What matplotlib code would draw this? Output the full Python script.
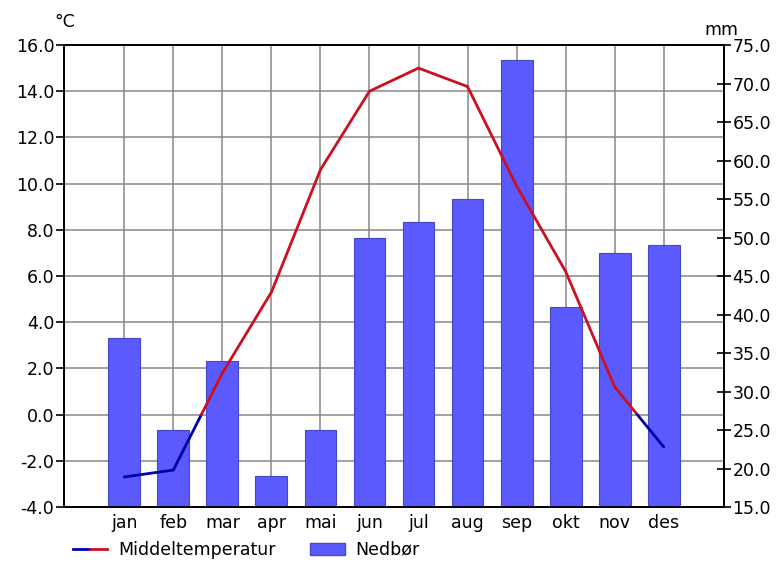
import matplotlib.pyplot as plt
from matplotlib.lines import Line2D
from matplotlib.patches import Patch
from matplotlib.legend_handler import HandlerTuple
from matplotlib.ticker import FormatStrFormatter

# Data
maaneder = ['jan', 'feb', 'mar', 'apr', 'mai', 'jun', 'jul', 'aug', 'sep', 'okt', 'nov', 'des']
temperatur = [-2.7, -2.4, 1.8, 5.3, 10.6, 14.0, 15.0, 14.2, 9.9, 6.2, 1.2, -1.4]  # °C
nedbor = [37, 25, 34, 19, 25, 50, 52, 55, 73, 41, 48, 49]  # mm

rod = '#cc1020'
bla = '#0000aa'
stolpe = '#5a5aff'
fs = 12.5

fig = plt.figure(figsize=(7.77, 5.62), dpi=100)
ax = fig.add_axes([64/777, 1-507/562, 660/777, 462/562])
ax2 = ax.twinx()

x = list(range(len(maaneder)))

# Temperaturakse (venstre) med rutenett
ax.set_xlim(-1.23, 12.23)
ax.set_ylim(-4, 16)
ax.set_yticks(range(-4, 17, 2))
ax.yaxis.set_major_formatter(FormatStrFormatter('%.1f'))
ax.set_xticks(x)
ax.set_xticklabels(maaneder)
ax.grid(True, color='#888888', linewidth=1.1)
ax.tick_params(axis='y', direction='out', length=6, width=1.2, labelsize=fs, pad=1)
ax.tick_params(axis='x', direction='in', length=5, width=1.2, labelsize=fs, pad=5)

# Nedbør (høyre akse)
ax2.set_ylim(15, 75)
ax2.set_yticks(range(15, 76, 5))
ax2.yaxis.set_major_formatter(FormatStrFormatter('%.1f'))
ax2.tick_params(axis='y', direction='inout', length=10, width=1.2, labelsize=fs, pad=1)
ax2.bar(x, nedbor, width=0.65, bottom=0, color=stolpe, edgecolor='#4646c8', linewidth=0.8, zorder=2)

for a in (ax, ax2):
    for s in a.spines.values():
        s.set_linewidth(1.3)
        s.set_color('black')

# Temperaturlinje: rød over 0, blå under 0
for i in range(len(x) - 1):
    x0, x1 = x[i], x[i + 1]
    t0, t1 = temperatur[i], temperatur[i + 1]
    if (t0 < 0) != (t1 < 0):
        xc = x0 + (0 - t0) / (t1 - t0) * (x1 - x0)
        deler = [((x0, xc), (t0, 0)), ((xc, x1), (0, t1))]
    else:
        deler = [((x0, x1), (t0, t1))]
    for xs, ts in deler:
        farge = rod if (ts[0] + ts[1]) / 2 >= 0 else bla
        ax2.plot(xs, ts, color=farge, linewidth=2, transform=ax.transData,
                 zorder=3, solid_capstyle='round')

ax2.set_ylim(15, 75)

fig.text(54/777, 1-22/562, '°C', fontsize=fs, ha='left', va='center')
fig.text(704/777, 1-30/562, 'mm', fontsize=fs, ha='left', va='center')

h_temp = (Line2D([], [], color=bla, linewidth=2), Line2D([], [], color=rod, linewidth=2))
h_ned = Patch(facecolor=stolpe, edgecolor='#4646c8')
fig.legend([h_temp, h_ned], ['Middeltemperatur', 'Nedbør'],
           handler_map={tuple: HandlerTuple(ndivide=None, pad=0)},
           loc='lower left', bbox_to_anchor=(57/777, -0.022), ncol=2, frameon=False,
           fontsize=fs, handlelength=2.0, handletextpad=0.6, columnspacing=2.0)

plt.savefig('out.png', dpi=100)
